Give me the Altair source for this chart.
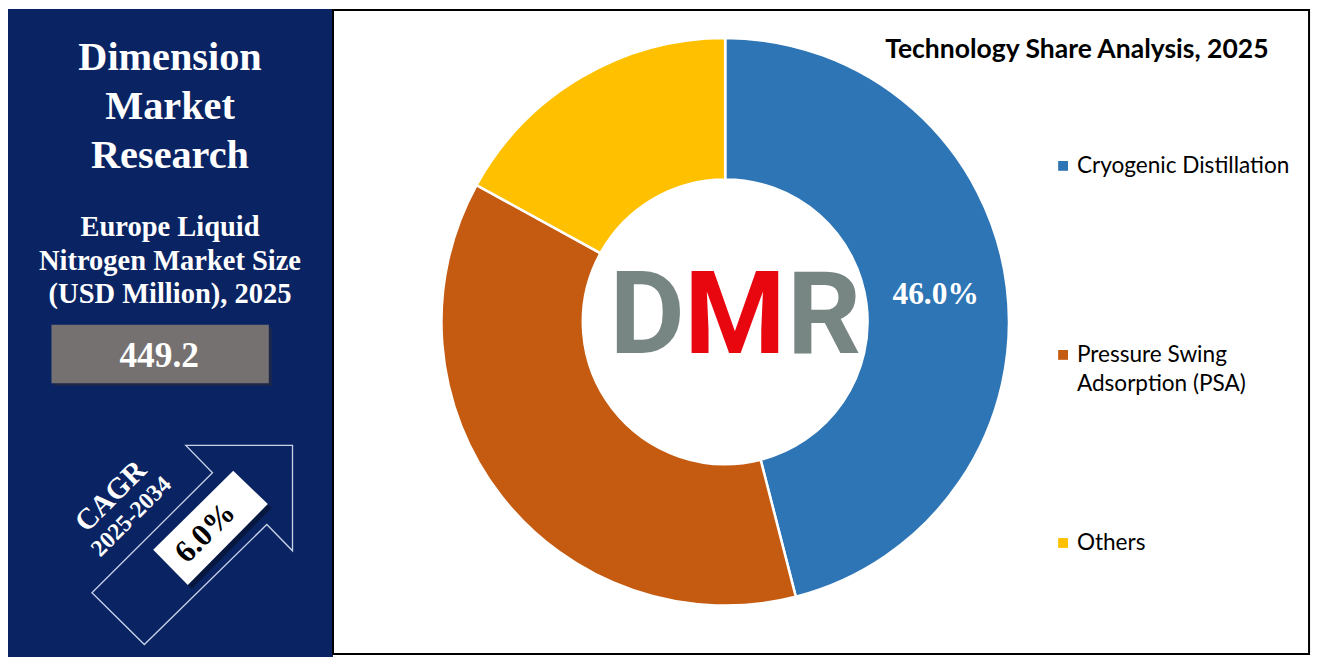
import altair as alt
import pandas as pd

# ---------------- data ----------------
technologies = ["Cryogenic Distillation", "Pressure Swing Adsorption (PSA)", "Others"]
shares = [46.0, 37.0, 17.0]
slice_labels = ["46.0%", "", ""]
legend_labels = ["Cryogenic Distillation", "Pressure Swing\nAdsorption (PSA)", "Others"]
colors = ["#2E75B6", "#C55A11", "#FFC000"]
chart_title = "Technology Share Analysis, 2025"
brand_lines = ["Dimension", "Market", "Research"]
size_lines = ["Europe Liquid", "Nitrogen Market Size", "(USD Million), 2025"]
market_size = "449.2"
cagr_label = "CAGR"
cagr_period = "2025-2034"
cagr_value = "6.0%"

# ---------------- layout (reference pixel space) ----------------
W, H = 1321, 665
CW, CH = 1305, 649
sx, sy = CW / W, CH / H
s = (sx + sy) / 2

xs = alt.Scale(domain=[0, W], nice=False, zero=False)
ys = alt.Scale(domain=[0, H], nice=False, zero=False, reverse=True)


def X(f):
    return alt.X(f, type="quantitative", scale=xs, axis=None)


def Y(f):
    return alt.Y(f, type="quantitative", scale=ys, axis=None)


def rect(x0, x1, y0, y1, **mk):
    df = pd.DataFrame({"x0": [x0], "x1": [x1], "y0": [y0], "y1": [y1]})
    return alt.Chart(df).mark_rect(**mk).encode(
        x=X("x0"), x2="x1", y=Y("y0"), y2="y1")


def text(xs_, ys_, ts, **mk):
    df = pd.DataFrame({"x": xs_, "y": ys_, "t": ts})
    return alt.Chart(df).mark_text(**mk).encode(x=X("x"), y=Y("y"), text="t:N")


def path_pts(pts, cx, cy):
    segs = []
    for i, (px, py) in enumerate(pts):
        segs.append(("M" if i == 0 else "L") + f"{(px - cx) * sx:.2f},{(py - cy) * sy:.2f}")
    return " ".join(segs) + " Z"


def shape(cx, cy, path, **mk):
    df = pd.DataFrame({"x": [cx], "y": [cy]})
    return alt.Chart(df).mark_point(shape=path, size=4, opacity=1, **mk).encode(
        x=X("x"), y=Y("y"))


serif = "Liberation Serif"
layers = []

# panels
layers.append(rect(0, 329, 0, 665, color="#0A2463"))
layers.append(rect(329, 1317, 1, 662, fill="white", stroke="black", strokeWidth=2))

# left panel texts
layers.append(text([164] * 3, [63, 113, 163], brand_lines, font=serif, fontWeight="bold",
                   fontSize=41 * s, color="white", align="center", baseline="alphabetic"))
layers.append(text([164] * 3, [233, 268, 302], size_lines, font=serif, fontWeight="bold",
                   fontSize=29 * s, color="white", align="center", baseline="alphabetic"))
layers.append(rect(47, 267, 327, 387, color="#2a2a3a", opacity=0.6))
layers.append(rect(44, 264, 324, 384, color="#767171"))
layers.append(text([153], [367], [market_size], font=serif, fontWeight="bold",
                   fontSize=36 * s, color="white", align="center", baseline="alphabetic"))

# arrow outline
arrow = [(180, 448), (288, 448), (288, 556), (262, 529), (138, 652), (85, 599), (207, 476)]
layers.append(shape(186, 550, path_pts(arrow, 186, 550), filled=False, stroke="#C9D3E8",
                    strokeWidth=1.3))
# white value box with shadow
box = [(147, 555), (228, 474), (263, 508), (182, 591)]
box_sh = [(px + 4, py + 4) for px, py in box]
layers.append(shape(209, 536, path_pts(box_sh, 209, 536), filled=True, fill="#000000",
                    fillOpacity=0.35, strokeWidth=0))
layers.append(shape(205, 532, path_pts(box, 205, 532), filled=True, fill="white", strokeWidth=0))
layers.append(text([104], [500], [cagr_label], font=serif, fontWeight="bold", fontSize=30 * s,
                   color="white", align="center", baseline="middle", angle=315))
layers.append(text([125], [521], [cagr_period], font=serif, fontWeight="bold", fontSize=24 * s,
                   color="white", align="center", baseline="middle", angle=315))
layers.append(text([200], [538], [cagr_value], font=serif, fontWeight="bold", fontSize=32 * s,
                   color="black", align="center", baseline="middle", angle=315))

# donut
CX, CY, R_OUT, R_IN = 726, 321, 289, 145
pie = pd.DataFrame({"tech": technologies, "share": shares, "label": slice_labels,
                    "idx": list(range(len(technologies)))})
cx = alt.XDatum(CX, type="quantitative", scale=xs, axis=None)
cy = alt.YDatum(CY, type="quantitative", scale=ys, axis=None)
layers.append(alt.Chart(pie).mark_arc(innerRadius=R_IN * s, outerRadius=R_OUT * s,
                                      stroke="white", strokeWidth=2.5).encode(
    theta=alt.Theta("share:Q", stack=True),
    color=alt.Color("tech:N", scale=alt.Scale(domain=technologies, range=colors), legend=None),
    order=alt.Order("idx:Q", sort="ascending"),
    x=cx, y=cy))
layers.append(alt.Chart(pie).mark_text(radius=216 * s, font=serif, fontWeight="bold",
                                       fontSize=32 * s, color="white", align="center",
                                       baseline="middle").encode(
    theta=alt.Theta("share:Q", stack=True),
    detail="tech:N",
    order=alt.Order("idx:Q", sort="ascending"),
    text="label:N",
    x=cx, y=cy))

# DMR logo
logo_font = dict(font="Roboto", fontWeight="bold", fontSize=118 * s, align="center",
                 baseline="alphabetic")
layers.append(text([647], [353], ["D"], color="#778583", **logo_font))
layers.append(text([736], [353], ["M"], color="#E8070F", **logo_font))
layers.append(text([826], [353], ["R"], color="#778583", **logo_font))

# title
layers.append(text([1082], [50], [chart_title], font="Lato", fontWeight="bold",
                   fontSize=27 * s, color="black", align="center", baseline="alphabetic"))

# legend
leg_y = [161, 355, 548]
leg = pd.DataFrame({"tech": technologies, "lab": legend_labels, "y": leg_y,
                    "xs": [1068] * 3, "xt": [1082] * 3})
layers.append(alt.Chart(leg).mark_square(size=100 * s * s, opacity=1).encode(
    x=X("xs"), y=Y("y"),
    color=alt.Color("tech:N", scale=alt.Scale(domain=technologies, range=colors), legend=None)))
layers.append(alt.Chart(leg).mark_text(font="Lato", fontSize=23 * s, color="black", align="left",
                                       baseline="middle", lineBreak="\n", lineHeight=30 * s).encode(
    x=X("xt"), y=Y("y"), text="lab:N"))

chart = alt.layer(*layers).properties(
    width=CW, height=CH,
    autosize=alt.AutoSizeParams(type="fit", contains="padding"),
    padding=0,
).configure_view(strokeWidth=0)

chart.save("out.html", embed_options={"renderer": "svg", "actions": False})
